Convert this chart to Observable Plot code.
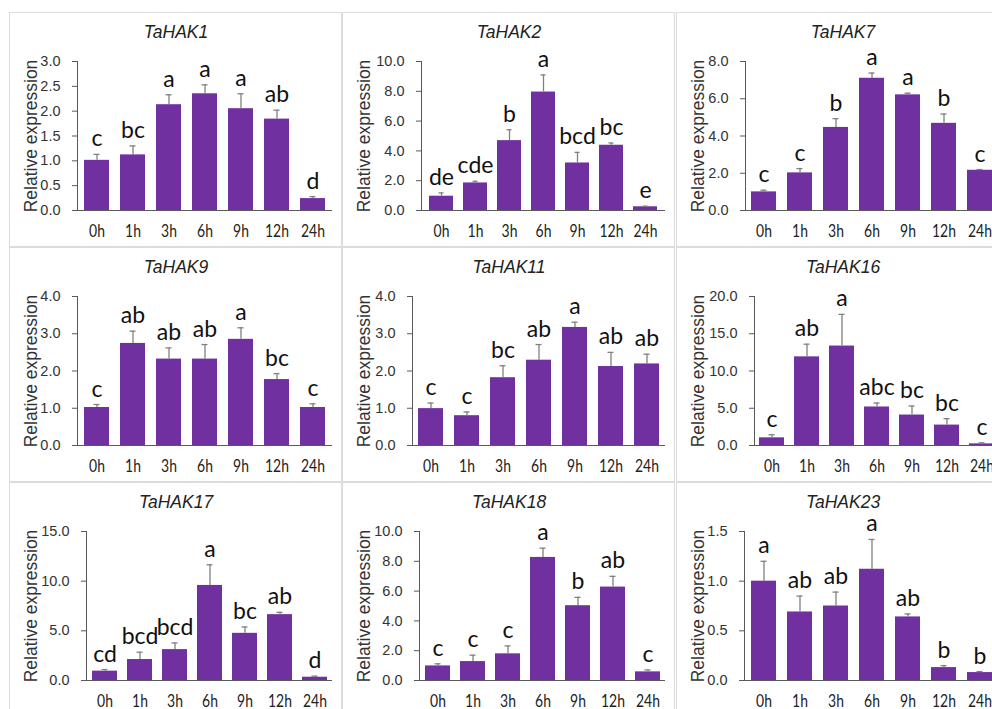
<!DOCTYPE html>
<html><head><meta charset="utf-8">
<script src="https://cdn.jsdelivr.net/npm/d3@7"></script>
<script src="https://cdn.jsdelivr.net/npm/@observablehq/plot@0.6"></script>
<style>
html,body{margin:0;padding:0;background:#fff;width:992px;height:709px;overflow:hidden;}
#grid{position:relative;width:992px;height:709px;}
.panel{position:absolute;width:333px;height:235px;box-shadow:inset 0 0 0 1px #dcdcdc;}
.panel svg{position:absolute;left:0;top:0;background:transparent;}
</style></head><body><div id="grid"></div>
<script>
const timepoints = ["0h","1h","3h","6h","9h","12h","24h"];

const hak1Mean = [1.01,1.12,2.13,2.35,2.05,1.84,0.24];
const hak1Sd   = [0.12,0.18,0.20,0.18,0.30,0.18,0.04];
const hak1Letters = ["c","bc","a","a","a","ab","d"];
const hak1Ticks = [0,0.5,1,1.5,2,2.5,3];

const hak2Mean = [0.96,1.85,4.69,7.95,3.19,4.38,0.25];
const hak2Sd   = [0.22,0.11,0.73,1.15,0.71,0.15,0.04];
const hak2Letters = ["de","cde","b","a","bcd","bc","e"];
const hak2Ticks = [0,2,4,6,8,10];

const hak7Mean = [1.00,2.02,4.46,7.10,6.21,4.68,2.16];
const hak7Sd   = [0.09,0.23,0.47,0.28,0.09,0.50,0.04];
const hak7Letters = ["c","c","b","a","a","b","c"];
const hak7Ticks = [0,2,4,6,8];

const hak9Mean = [1.02,2.74,2.32,2.32,2.85,1.77,1.02];
const hak9Sd   = [0.08,0.33,0.30,0.39,0.31,0.16,0.10];
const hak9Letters = ["c","ab","ab","ab","a","bc","c"];
const hak9Ticks = [0,1,2,3,4];

const hak11Mean = [0.99,0.80,1.82,2.29,3.17,2.12,2.19];
const hak11Sd   = [0.15,0.10,0.32,0.42,0.14,0.38,0.26];
const hak11Letters = ["c","c","bc","ab","a","ab","ab"];
const hak11Ticks = [0,1,2,3,4];

const hak16Mean = [1.03,11.9,13.35,5.17,4.09,2.74,0.22];
const hak16Sd   = [0.41,1.7,4.25,0.53,1.21,0.86,0.14];
const hak16Letters = ["c","ab","a","abc","bc","bc","c"];
const hak16Ticks = [0,5,10,15,20];

const hak17Mean = [0.94,2.11,3.11,9.57,4.75,6.63,0.33];
const hak17Sd   = [0.16,0.74,0.67,2.08,0.64,0.23,0.11];
const hak17Letters = ["cd","bcd","bcd","a","bc","ab","d"];
const hak17Ticks = [0,5,10,15];

const hak18Mean = [0.98,1.27,1.79,8.26,5.02,6.27,0.58];
const hak18Sd   = [0.14,0.43,0.53,0.62,0.56,0.72,0.13];
const hak18Letters = ["c","c","c","a","b","ab","c"];
const hak18Ticks = [0,2,4,6,8,10];

const hak23Mean = [1.00,0.69,0.75,1.12,0.64,0.13,0.08];
const hak23Sd   = [0.20,0.16,0.14,0.30,0.03,0.02,0.01];
const hak23Letters = ["a","ab","ab","a","ab","b","b"];
const hak23Ticks = [0,0.5,1,1.5];

const panels = [
  {gene:"TaHAK1", mean:hak1Mean, sd:hak1Sd, letters:hak1Letters, ticks:hak1Ticks},
  {gene:"TaHAK2", mean:hak2Mean, sd:hak2Sd, letters:hak2Letters, ticks:hak2Ticks},
  {gene:"TaHAK7", mean:hak7Mean, sd:hak7Sd, letters:hak7Letters, ticks:hak7Ticks},
  {gene:"TaHAK9", mean:hak9Mean, sd:hak9Sd, letters:hak9Letters, ticks:hak9Ticks},
  {gene:"TaHAK11", mean:hak11Mean, sd:hak11Sd, letters:hak11Letters, ticks:hak11Ticks},
  {gene:"TaHAK16", mean:hak16Mean, sd:hak16Sd, letters:hak16Letters, ticks:hak16Ticks},
  {gene:"TaHAK17", mean:hak17Mean, sd:hak17Sd, letters:hak17Letters, ticks:hak17Ticks},
  {gene:"TaHAK18", mean:hak18Mean, sd:hak18Sd, letters:hak18Letters, ticks:hak18Ticks},
  {gene:"TaHAK23", mean:hak23Mean, sd:hak23Sd, letters:hak23Letters, ticks:hak23Ticks}
];

// layout (not data)
const colX = [9, 342, 676];
const rowY = [12, 247, 482];
const marginLefts = [68, 79, 69, 68, 70, 78, 77, 77, 68];
const W = 333, H = 235;
const PURPLE = "#7030a0", AXIS = "#595959", ERR = "#808080";
const SANS = "'Liberation Sans', Arial, sans-serif";
const CAL = "Lato, 'Noto Sans', sans-serif";

function condense(svg, label, factor) {
  d3.select(svg).selectAll(`g[aria-label="${label}"] text`).each(function () {
    const L = this.getComputedTextLength();
    if (L > 0) {
      this.setAttribute("textLength", (L * factor).toFixed(2));
      this.setAttribute("lengthAdjust", "spacingAndGlyphs");
    }
  });
}

const grid = document.getElementById("grid");
panels.forEach((p, i) => {
  const data = timepoints.map((t, j) => ({t, mean: p.mean[j], top: p.mean[j] + p.sd[j], letter: p.letters[j]}));
  const ml = marginLefts[i], mr = 10, mt = 49, mb = 37;
  const frameCenter = ml + (W - mr - ml) / 2;
  const chart = Plot.plot({
    width: W, height: H,
    marginLeft: ml, marginRight: mr, marginTop: mt, marginBottom: mb,
    style: {background: "transparent", overflow: "visible"},
    x: {domain: timepoints, paddingInner: 0.3, paddingOuter: 0.15, axis: null},
    y: {domain: [0, d3.max(p.ticks)], axis: null},
    marks: [
      Plot.barY(data, {x: "t", y: "mean", fill: PURPLE}),
      Plot.ruleX(data, {x: "t", y1: "mean", y2: "top", stroke: ERR, strokeWidth: 1.3}),
      Plot.tickY(data, {x: "t", y: "top", stroke: ERR, strokeWidth: 1.3, inset: 9.5}),
      Plot.text(data, {x: "t", y: "top", text: "letter", dy: -8, lineAnchor: "bottom",
        fontSize: 23, fontFamily: CAL, fill: "#111", ariaLabel: "letters"}),
      Plot.axisY(p.ticks, {tickFormat: d => d.toFixed(1), tickSize: 5, tickPadding: 12,
        stroke: AXIS, fill: "#333", fontSize: 14.5, fontFamily: SANS, label: null}),
      Plot.axisX({tickSize: 0, tickPadding: 14, fill: "#222", fontSize: 17, fontFamily: CAL, label: null}),
      Plot.frame({anchor: "left", stroke: AXIS}),
      Plot.ruleY([0], {stroke: AXIS}),
      Plot.text([p.gene], {frameAnchor: "top", dx: W / 2 - frameCenter, dy: -29, lineAnchor: "middle",
        textAnchor: "middle", fontSize: 17.5, fontStyle: "italic", fontFamily: SANS, fill: "#222"}),
      Plot.text(["Relative expression"], {frameAnchor: "left", rotate: -90, dx: 22 - ml,
        textAnchor: "middle", lineAnchor: "middle", fontSize: 17.5, fontFamily: SANS, fill: "#333"})
    ]
  });
  const div = document.createElement("div");
  div.className = "panel";
  div.style.left = colX[i % 3] + "px";
  div.style.top = rowY[Math.floor(i / 3)] + "px";
  div.appendChild(chart);
  grid.appendChild(div);
  condense(chart, "letters", 0.86);
  condense(chart, "x-axis tick label", 0.82);
});
</script>
</body></html>
